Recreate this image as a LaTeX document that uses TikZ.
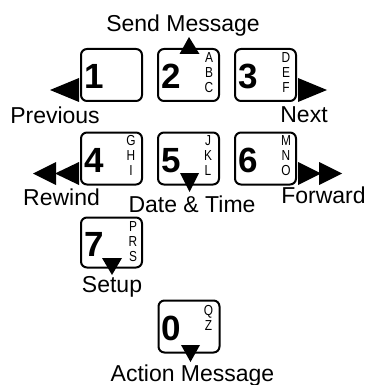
\documentclass[tikz,border=0pt]{standalone}
\usepackage{fontspec}
\setmainfont{Liberation Sans}
\newfontfamily\narrowfont[FakeStretch=0.82]{Liberation Sans}
\usetikzlibrary{calc}
\begin{document}
\begin{tikzpicture}[x=1pt,y=-1pt,
  keybox/.style={draw, line width=2pt, rounded corners=6pt, minimum width=61pt, minimum height=52pt, inner sep=0pt},
  digit/.style={anchor=base west, inner sep=0pt, font=\fontsize{35}{35}\selectfont\bfseries},
  letters/.style={anchor=north, inner sep=0pt, align=center, font=\narrowfont\fontsize{14.5}{15}\selectfont},
  lbl/.style={anchor=base, inner sep=0pt, font=\fontsize{23}{23}\selectfont},
  tri/.style={fill=black}]
\useasboundingbox (0,0) rectangle (368,385);
% keys
\node[keybox] (k1) at (111.5,75) {};
\node[keybox] (k2) at (188.5,75) {};
\node[keybox] (k3) at (265.5,75) {};
\node[keybox] (k4) at (111.5,158.5) {};
\node[keybox] (k5) at (188.5,158.5) {};
\node[keybox] (k6) at (265.5,158.5) {};
\node[keybox, minimum height=50pt] (k7) at (111.5,242.5) {};
\node[keybox] (k0) at (189,326.5) {};
% digits
\foreach \k/\d in {k1/1,k2/2,k3/3,k4/4,k5/5,k6/6,k7/7,k0/0}
  \node[digit] (d\k) at ($(\k.west)+(4,14)$) {\d};
% letters
\node[letters] (l2) at ($(k2.north east)+(-11,4)$) {A\\B\\C};
\node[letters] (l3) at ($(k3.north east)+(-11,4)$) {D\\E\\F};
\node[letters] (l4) at ($(k4.north east)+(-12,4)$) {G\\H\\I};
\node[letters] (l5) at ($(k5.north east)+(-12,4)$) {J\\K\\L};
\node[letters] (l6) at ($(k6.north east)+(-11,4)$) {M\\N\\O};
\node[letters] (l7) at ($(k7.north east)+(-10,5)$) {P\\R\\S};
\node[letters] (l0) at ($(k0.north east)+(-12,6)$) {Q\\Z};
% arrows
\fill[tri] (50,90) -- (79,78) -- (79,102) -- cycle;
\fill[tri] (298,78) -- (298,102) -- (327,90) -- cycle;
\fill[tri] (189,37) -- (199.5,54) -- (179.5,54) -- cycle;
\fill[tri] (33,173.5) -- (56,162) -- (56,185) -- cycle;
\fill[tri] (55,173.5) -- (79,162) -- (79,185) -- cycle;
\fill[tri] (298,162) -- (298,185) -- (321,173.5) -- cycle;
\fill[tri] (319,162) -- (319,185) -- (342,173.5) -- cycle;
\fill[tri] (180,173) -- (199,173) -- (189.5,192) -- cycle;
\fill[tri] (102,258) -- (122,258) -- (112,275) -- cycle;
\fill[tri] (181,345) -- (200,345) -- (190.5,362) -- cycle;
% labels
\node[lbl] (send) at (183,32) {Send Message};
\node[lbl] (prev) at (55,123) {Previous};
\node[lbl] (next) at (304,122) {Next};
\node[lbl] (rew) at (61.5,205) {Rewind};
\node[lbl] (dt) at (192,212) {Date \& Time};
\node[lbl] (fwd) at (323.5,203) {Forward};
\node[lbl] (setup) at (112,292) {Setup};
\node[lbl] (act) at (192.5,381) {Action Message};
\end{tikzpicture}
\end{document}
